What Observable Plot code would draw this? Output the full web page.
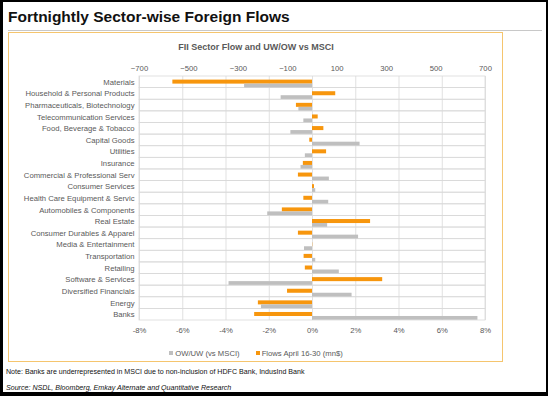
<!DOCTYPE html>
<html>
<head>
<meta charset="utf-8">
<script src="https://cdn.jsdelivr.net/npm/d3@7"></script>
<script src="https://cdn.jsdelivr.net/npm/@observablehq/plot@0.6"></script>
<style>
  html, body { margin: 0; padding: 0; }
  body { width: 548px; height: 396px; background: #000; position: relative; overflow: hidden;
         font-family: "Liberation Sans", Arial, sans-serif; }
  #page { position: absolute; left: 3px; top: 2px; width: 543px; height: 390px; background: #fff; }
  .abs { position: absolute; white-space: nowrap; }
  #title { left: 8px; top: 8px; font-size: 15.5px; font-weight: bold; color: #111; line-height: 18px; }
  #rule { left: 8px; top: 30px; width: 534px; height: 1px; background: #c8c8c8; }
  #box { left: 8px; top: 32px; width: 495px; height: 330px; border: 1.3px solid #f5c56e; box-sizing: border-box; }
  #ctitle { left: 8px; width: 496px; top: 42px; text-align: center; font-size: 9px; font-weight: bold; color: #595959; line-height: 11px; }
  #chart { left: 0px; top: 54px; }
  #legend { left: 8px; width: 496px; top: 349px; text-align: center; font-size: 7.7px; color: #595959; line-height: 10px; }
  #legend .sw { display: inline-block; width: 4px; height: 4px; margin-right: 2px; vertical-align: 1px; }
  #note { left: 6px; top: 368px; font-size: 7.1px; color: #111; line-height: 9px; }
  #source { left: 6px; top: 384px; font-size: 7.1px; font-style: italic; color: #111; line-height: 9px; }
</style>
</head>
<body>
<div id="page"></div>
<div id="title" class="abs">Fortnightly Sector-wise Foreign Flows</div>
<div id="rule" class="abs"></div>
<div id="box" class="abs"></div>
<div id="ctitle" class="abs">FII Sector Flow and UW/OW vs MSCI</div>
<div id="chart" class="abs"></div>
<div id="legend" class="abs"></div>
<div id="note" class="abs">Note: Banks are underrepresented in MSCI due to non-inclusion of HDFC Bank, IndusInd Bank</div>
<div id="source" class="abs">Source: NSDL, Bloomberg, Emkay Alternate and Quantitative Research</div>
<script>
const categories = [
  "Materials",
  "Household & Personal Products",
  "Pharmaceuticals, Biotechnology",
  "Telecommunication Services",
  "Food, Beverage & Tobacco",
  "Capital Goods",
  "Utilities",
  "Insurance",
  "Commercial & Professional Serv",
  "Consumer Services",
  "Health Care Equipment & Servic",
  "Automobiles & Components",
  "Real Estate",
  "Consumer Durables & Apparel",
  "Media & Entertainment",
  "Transportation",
  "Retailing",
  "Software & Services",
  "Diversified Financials",
  "Energy",
  "Banks"
];
// Flows April 16-30 (mn$)
const flows = [-565, 94, -65, 23, 46, -11, 57, -37, -57, 8, -35, -122, 235, -57, 1, -34, -29, 284, -101, -219, -234];
// OW/UW vs MSCI (%)
const owuw = [-3.14, -1.45, -0.63, -0.4, -1.0, 2.2, -0.33, -0.53, 0.78, 0.15, 0.75, -2.07, 0.7, 2.13, -0.37, 0.15, 1.24, -3.86, 1.83, -2.36, 7.65];

const flowTicks = [-700, -500, -300, -100, 100, 300, 500, 700];
const pctTicks = [-8, -6, -4, -2, 0, 2, 4, 6, 8];
const flowDomain = [-700, 700];
const pctDomain = [-8, 8];

const seriesNames = ["OW/UW (vs MSCI)", "Flows April 16-30  (mn$)"];
const colors = ["#bfbfbf", "#f7960d"];

// map percent onto the flow axis (secondary axis: -8%..8% aligned to -700..700)
const k = flowDomain[1] / pctDomain[1];
const toX = p => p * k;

const rows = categories.map((c, i) => ({cat: c, flow: flows[i], ow: owuw[i]}));

const chart = Plot.plot({
  width: 504,
  height: 290,
  marginLeft: 139,
  marginRight: 19,
  marginTop: 22,
  marginBottom: 24,
  style: {fontFamily: "'Liberation Sans', Arial, sans-serif", fontSize: "7.7px", color: "#595959", background: "transparent"},
  x: {domain: flowDomain, axis: null},
  y: {domain: categories, padding: 0, round: false, axis: null},
  marks: [
    Plot.barX(categories, {y: d => d, x1: flowDomain[0], x2: flowDomain[1], fill: "none", stroke: "#d9d9d9", strokeWidth: 0.8}),
    Plot.ruleX(pctTicks, {x: d => toX(d), stroke: "#d9d9d9", strokeWidth: 0.8}),
    Plot.barX(rows, {y: "cat", x: "flow", fill: colors[1], insetTop: 3.6, insetBottom: 4.0}),
    Plot.barX(rows, {y: "cat", x: d => toX(d.ow), fill: colors[0], insetTop: 7.6, insetBottom: 0.3}),
    Plot.axisX({anchor: "top", ticks: flowTicks, tickSize: 0, tickPadding: 5.5, label: null, fill: "#595959"}),
    Plot.axisX({anchor: "bottom", ticks: pctTicks.map(toX), tickFormat: d => Math.round(d / k) + "%", tickSize: 0, tickPadding: 7, label: null, fill: "#595959"}),
    Plot.axisY({tickSize: 0, tickPadding: 5, label: null, fill: "#595959"})
  ]
});
document.getElementById("chart").appendChild(chart);

const legend = document.getElementById("legend");
legend.innerHTML = seriesNames.map((n, i) =>
  `<span style="margin:0 8px"><span class="sw" style="background:${colors[i]}"></span>${n}</span>`).join("");
</script>
</body>
</html>
